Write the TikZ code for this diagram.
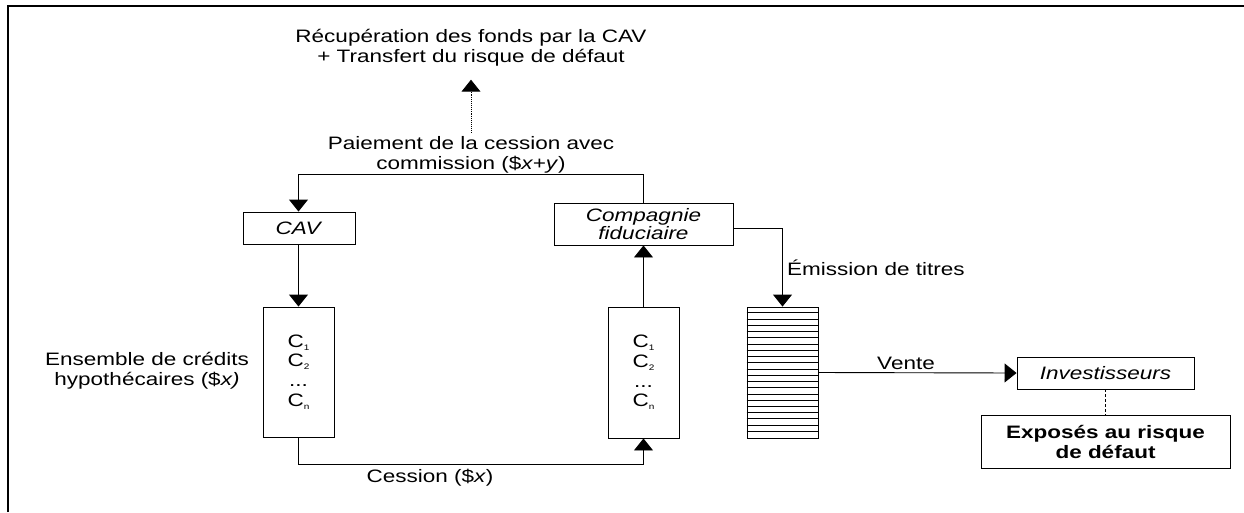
\documentclass[tikz,border=0pt]{standalone}
\usepackage{fontspec}
\setmainfont[FakeStretch=1.25]{Liberation Sans}
\usetikzlibrary{arrows.meta}

\newcommand{\indice}[1]{\raisebox{-3pt}{\fontsize{8}{8}\selectfont #1}}

\begin{document}
\begin{tikzpicture}[x=1pt,y=-1pt,font=\fontsize{18}{20}\selectfont,
  boite/.style={draw,line width=0.9pt,inner sep=0pt,align=center},
  texte/.style={inner sep=0pt,align=center},
  fleche/.style={-{Triangle[width=19pt,length=12pt]},line width=0.9pt},
  lien/.style={line width=0.8pt}]

\useasboundingbox (0,0) rectangle (1244,512);
\draw[line width=2.5pt] (8,512) -- (8,6) -- (1244,6);

% boites
\node[boite,minimum width=112,minimum height=32] (cav) at (299,228) {\textit{CAV}};
\node[boite,minimum width=179,minimum height=42] (comp) at (643.5,224)
  {\textit{Compagnie}\\[-2pt]\textit{fiduciaire}};
\node[boite,minimum width=71,minimum height=130,font=\fontsize{18}{19.6}\selectfont] (credA) at (298.5,372)
  {C\indice{1}\\C\indice{2}\\...\\C\indice{n}};
\node[boite,minimum width=71,minimum height=131,font=\fontsize{18}{19.6}\selectfont] (credB) at (643.5,372.5)
  {C\indice{1}\\C\indice{2}\\...\\C\indice{n}};
\node[boite,minimum width=71,minimum height=131] (titres) at (782.5,372.5) {};
\node[boite,minimum width=177,minimum height=32] (inv) at (1105.5,373) {\textit{Investisseurs}};
\node[boite,minimum width=249,minimum height=53] (expo) at (1105.5,441.5)
  {\textbf{Exposés au risque}\\\textbf{de défaut}};

% rayures des titres
\foreach \i in {1,...,20}
  \draw[lien] ([yshift=-\i*6.24pt]titres.north west) -- ([yshift=-\i*6.24pt]titres.north east);

% textes
\node[texte] (recup) at (471,48) {Récupération des fonds par la CAV\\+ Transfert du risque de défaut};
\node[texte] (paiement) at (471,155) {Paiement de la cession avec\\commission (\$\textit{x+y})};
\node[texte] (ensemble) at (147,371) {Ensemble de crédits\\hypothécaires (\$\textit{x)}};
\node[texte] (cession) at (430,478) {Cession (\$\textit{x})};
\node[texte,anchor=west] (emission) at (787,268) {Émission de titres};
\node[texte] (vente) at (906,363) {Vente};

% fleches
\draw[fleche,densely dotted,shorten <=4pt,shorten >=13pt] (paiement.north) -- (recup.south);
\draw[fleche] (comp.north) -- ++(0,-28) -| (credA.north |- cav.north);
\draw[fleche] (cav.south -| credA.north) -- (credA.north);
\draw[fleche] (credA.south) -- ++(0,27) -| (credB.south);
\draw[fleche] (credB.north) -- (comp.south);
\draw[fleche] (comp.east) ++(0,4) -| (titres.north);
\draw[fleche] (titres.east) -- (inv.west);
\draw[lien,dash pattern=on 3pt off 2pt] (inv.south) -- (expo.north);
\end{tikzpicture}
\end{document}
